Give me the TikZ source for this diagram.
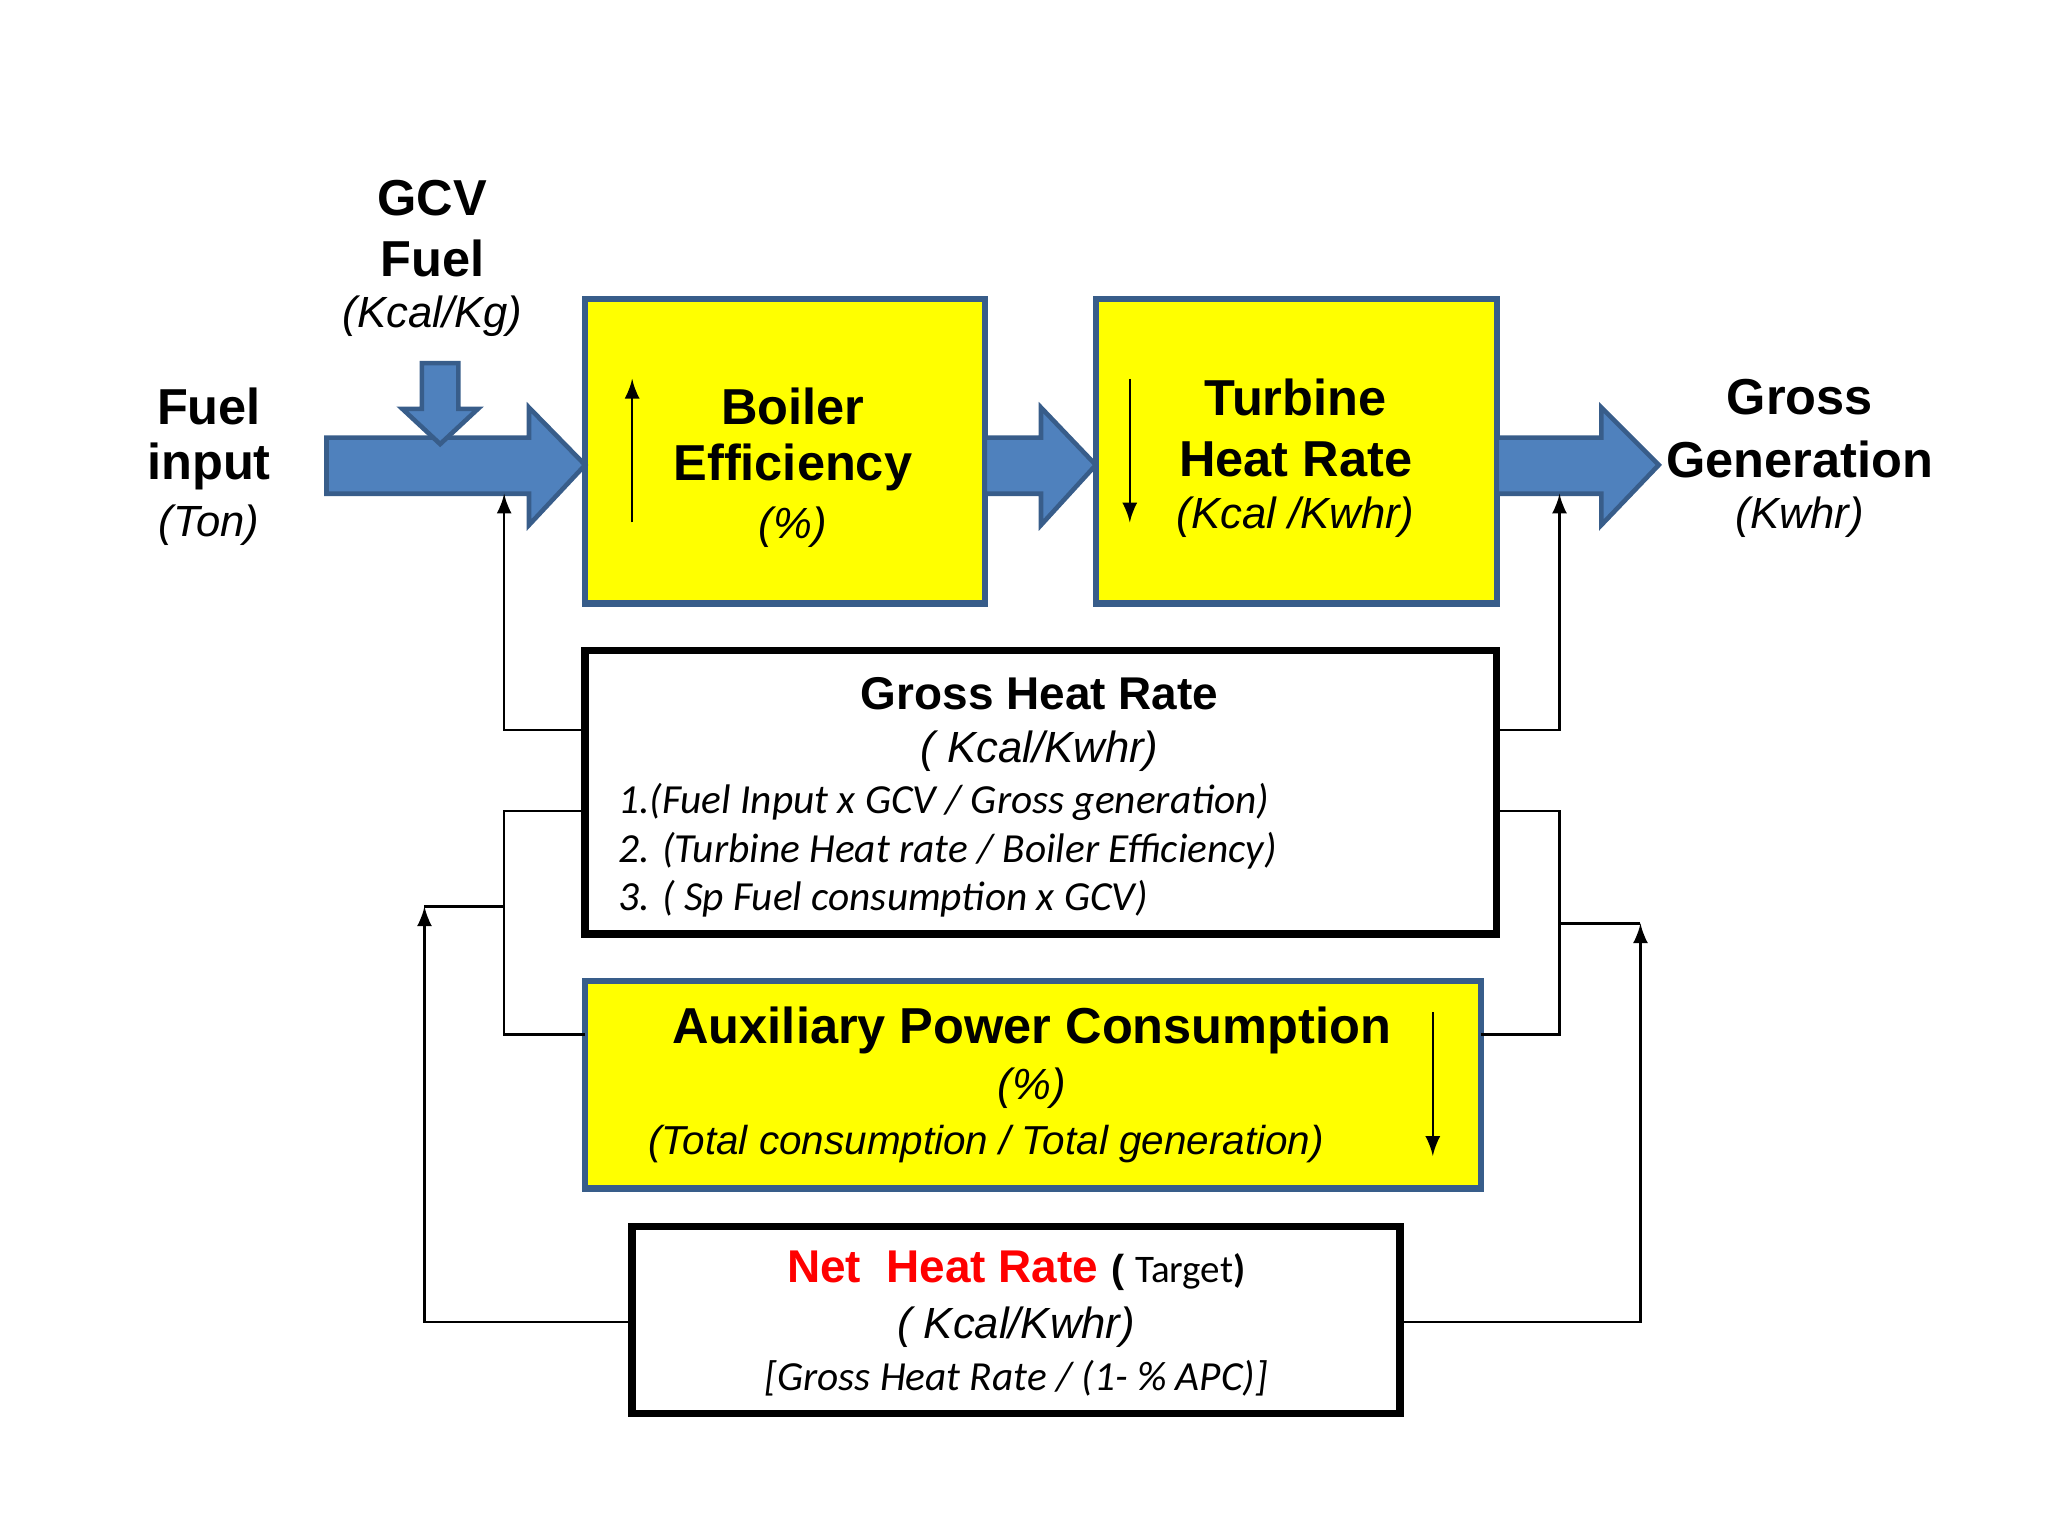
\documentclass[tikz,border=0pt]{standalone}
\usepackage{fontspec}
\setmainfont{Liberation Sans}
\newfontfamily\calib{Carlito}
\usetikzlibrary{positioning}
\definecolor{flowblue}{RGB}{79,129,189}
\definecolor{flowedge}{RGB}{56,93,138}
\definecolor{boxyellow}{RGB}{255,255,0}
\tikzset{
  ybox/.style={draw=flowedge, line width=1.4pt, fill=boxyellow},
  wbox/.style={draw=black, line width=1.6pt, fill=white},
  bigarrow/.style={fill=flowblue, draw=flowedge, line width=1pt},
  head/.style={font=\fontsize{11}{13}\selectfont\bfseries},
  unit/.style={font=\fontsize{9.5}{11}\selectfont\itshape},
  list/.style={font=\calib\fontsize{9}{11}\selectfont\itshape},
  link/.style={draw=black, line width=0.5pt, >=latex},
}
\begin{document}
\begin{tikzpicture}[x=0.01cm,y=-0.01cm]
\useasboundingbox (0,0) rectangle (1568,1176);

% main yellow blocks
\draw[ybox] (448,229) rectangle (754,462);
\draw[ybox] (839,229) rectangle (1146,462);

% flow arrows
\draw[bigarrow] (250,335) -- (405,335) -- (405,312) -- (448,356) -- (405,402) -- (405,378) -- (250,378) -- cycle;
\draw[bigarrow] (754,335) -- (797,335) -- (797,312) -- (839,356) -- (797,402) -- (797,378) -- (754,378) -- cycle;
\draw[bigarrow] (1146,335) -- (1226,335) -- (1226,312) -- (1270,356) -- (1226,402) -- (1226,378) -- (1146,378) -- cycle;
\draw[bigarrow] (323,278) -- (351,278) -- (351,313) -- (366,313) -- (337,340) -- (308,313) -- (323,313) -- cycle;

% side labels
\node[head] (gcv) at (331,152) {GCV};
\node[head] (gcvfuel) at (331,198) {Fuel};
\node[unit] (gcvunit) at (331,242) {(Kcal/Kg)};
\node[head] (fuel) at (160,311) {Fuel};
\node[head] (input) at (160,357) {input};
\node[unit] (ton) at (160,402) {(Ton)};
\node[head] (gross) at (1378,304) {Gross};
\node[head] (gen) at (1378,352) {Generation};
\node[unit] (kwhr) at (1378,396) {(Kwhr)};

% block texts
\node[head] (boiler) at (607,311) {Boiler};
\node[head] (eff) at (607,358) {Efficiency};
\node[unit] (pct) at (607,404) {(\%)};
\draw[->, link] (484,400) -- (484,290);
\node[head] (turbine) at (992,304) {Turbine};
\node[head] (hr) at (992,352) {Heat Rate};
\node[unit] (thr) at (992,396) {(Kcal /Kwhr)};
\draw[->, link] (865,290) -- (865,400);

% gross heat rate
\draw[wbox] (448,498) rectangle (1146,715);
\node[font=\fontsize{10}{12}\selectfont\bfseries] (ghrt) at (796,531) {Gross Heat Rate};
\node[unit] (ghru) at (796,575) {( Kcal/Kwhr)};
\node[anchor=west, list] (l1) at (461,614) {1.(Fuel Input x GCV / Gross generation)};
\node[anchor=west, list] (l2) at (461,651) {2. (Turbine Heat rate / Boiler Efficiency)};
\node[anchor=west, list] (l3) at (461,688) {3. ( Sp Fuel consumption x GCV)};

% auxiliary power
\draw[ybox] (448,751) rectangle (1134,910);
\node[head] (aux) at (790,789) {Auxiliary Power Consumption};
\node[unit] (auxp) at (790,833) {(\%)};
\node[font=\fontsize{8.8}{11}\selectfont\itshape] (auxf) at (755,876) {(Total consumption / Total generation)};
\draw[->, link] (1097,775) -- (1097,885);

% net heat rate
\draw[wbox] (484,939) rectangle (1072,1082);
\node (net) at (778,973) {\fontsize{10}{12}\selectfont\bfseries\textcolor{red}{Net\ \ Heat Rate} \fontsize{8.5}{10}\selectfont( \calib\mdseries Target\bfseries)};
\node[unit] (netu) at (778,1016) {( Kcal/Kwhr)};
\node[list] (netf) at (778,1055) {[Gross Heat Rate / (1- \% APC)]};

% feedback links
\draw[->, link] (448,559) -- (386,559) -- (386,378);
\draw[link] (448,621) -- (386,621) -- (386,792) -- (448,792);
\draw[link] (386,694) -- (325,694);
\draw[->, link] (484,1012) -- (325,1012) -- (325,694);
\draw[->, link] (1146,559) -- (1194,559) -- (1194,378);
\draw[link] (1146,621) -- (1194,621) -- (1194,792) -- (1134,792);
\draw[link] (1194,707) -- (1256,707);
\draw[->, link] (1072,1012) -- (1256,1012) -- (1256,707);
\end{tikzpicture}
\end{document}
